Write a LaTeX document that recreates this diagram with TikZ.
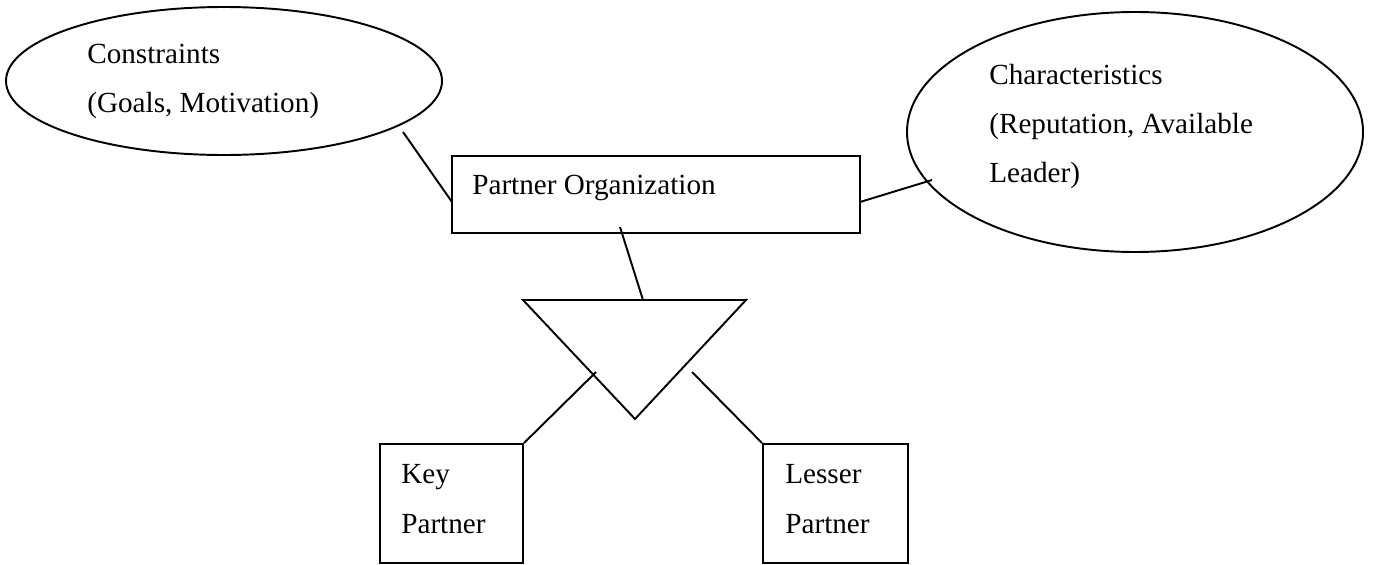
\documentclass[tikz,border=0pt]{standalone}
\usepackage{fontspec}
\setmainfont{Liberation Serif}
\usetikzlibrary{shapes.geometric}

\begin{document}
\begin{tikzpicture}[attr/.style={draw=black,line width=1.1pt,ellipse,inner sep=0pt},
entity/.style={draw=black,line width=1.1pt,rectangle,inner sep=0pt},
txt/.style={inner sep=0pt,anchor=base west,align=left,font=\fontsize{16.6}{28}\selectfont},
link/.style={black,line width=1.1pt}]
	\useasboundingbox (0,0) rectangle (27.46,11.28);
\node[attr,minimum width=8.72cm,minimum height=2.96cm] (cons) at (4.48,9.66) {};
\node[attr,minimum width=9.12cm,minimum height=4.80cm] (chars) at (22.70,8.64) {};
\node[entity,minimum width=8.16cm,minimum height=1.54cm] (org) at (13.12,7.39) {};
\node[entity,minimum width=2.86cm,minimum height=2.38cm] (key) at (9.03,1.21) {};
\node[entity,minimum width=2.90cm,minimum height=2.38cm] (lesser) at (16.71,1.21) {};

% texts, placed by the baseline of their last line
\node[txt] (constext) at (1.74,9.02) {Constraints\\(Goals, Motivation)};
\node[txt] (charstext) at (19.78,7.62) {Characteristics\\(Reputation, Available\\Leader)};
\node[txt] (orgtext) at (9.44,7.40) {Partner Organization};
\node[txt] (keytext) at (8.02,0.62) {Key\\Partner};
\node[txt] (lessertext) at (15.70,0.62) {Lesser\\Partner};

% triangle
\coordinate (T1) at (10.46,5.28);
\coordinate (T2) at (14.92,5.28);
\coordinate (T3) at (12.70,2.90);
\draw[link] (T1) -- (T2) -- (T3) -- cycle;

% free ends of the lines
\coordinate (A) at (8.06,8.64);
\coordinate (B) at (9.04,7.24);
\coordinate (C) at (17.20,7.24);
\coordinate (D) at (18.64,7.68);
\coordinate (E) at (12.40,6.74);
\coordinate (F) at (12.86,5.28);
\coordinate (G) at (11.92,3.84);
\coordinate (H) at (13.84,3.84);

\draw[link] (A) -- (B);
\draw[link] (C) -- (D);
\draw[link] (E) -- (F);
\draw[link] (key.north east) -- (G);
\draw[link] (lesser.north west) -- (H);

\end{tikzpicture}
\end{document}
